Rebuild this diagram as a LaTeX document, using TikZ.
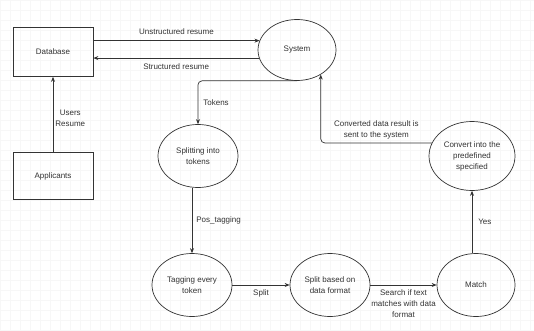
\documentclass[tikz,border=0pt]{standalone}
\usepackage{fontspec}
\setmainfont{Liberation Sans}
\usetikzlibrary{shapes.geometric,arrows.meta}

\begin{document}
\begin{tikzpicture}[x=1pt,y=-1pt,
	every node/.style={font=\fontsize{8}{11}\selectfont, text=black!80, align=center},
	box/.style={draw=black!80, line width=0.7pt, rectangle, minimum width=80pt, minimum height=49pt},
	proc/.style={draw=black!80, line width=0.7pt, ellipse, inner sep=0pt, minimum width=80pt, minimum height=63pt},
	flow/.style={draw=black!80, line width=0.7pt, -{Stealth[length=5pt,width=4pt]}},
	lbl/.style={inner sep=2pt}]
		\useasboundingbox (0,0) rectangle (534,331);
		\fill[white] (0,0) rectangle (534,331);
		\draw[black!3, step=10pt] (0,0) grid (534,331);

		\node[box] (db) at (53,52) {Database};
		\node[box, minimum height=47pt] (app) at (53,176) {Applicants};
		\node[proc, minimum width=78pt, minimum height=61pt] (sys) at (297,50) {System};
		\node[proc] (split) at (198,156) {Splitting into\\tokens};
		\node[proc] (tag) at (192,285) {Tagging every\\token};
		\node[proc] (fmt) at (330,285) {Split based on\\data format};
		\node[proc, minimum width=78pt] (match) at (476,285) {Match};
		\node[proc, minimum width=86pt, minimum height=69pt] (conv) at (472,156) {Convert into the\\predefined\\specified};

		% database <-> system
		\draw[flow] (db.east |- sys.166) -- (sys.166) node[lbl, midway, above=4pt]{Unstructured resume};
		\draw[flow] (sys.192) -- (db.east |- sys.192) node[lbl, midway, below=3pt]{Structured resume};
		\draw[flow] (app) -- (db) node[lbl, pos=0.45, right]{Users\\Resume};

		% processing chain
		\draw[flow, rounded corners=4pt] (sys.south) -| (split.north) node[lbl, pos=0.75, right=3pt]{Tokens};
		\draw[flow] (tag.north |- split.south) -- (tag.north) node[lbl, midway, right=2pt]{Pos\_tagging};
		\draw[flow] (tag) -- (fmt) node[lbl, midway, below=2pt]{Split};
		\draw[flow] (fmt) -- (match) node[lbl, midway, below=2pt]{Search if text\\matches with data\\format};
		\draw[flow] (conv.south |- match.north) -- (conv.south) node[lbl, midway, right=4pt]{Yes};
		\draw[flow, rounded corners=4pt] (conv.162) -| (sys.314) node[lbl, pos=0.25, above=1pt]{Converted data result is\\sent to the system};
	\end{tikzpicture}
\end{document}
